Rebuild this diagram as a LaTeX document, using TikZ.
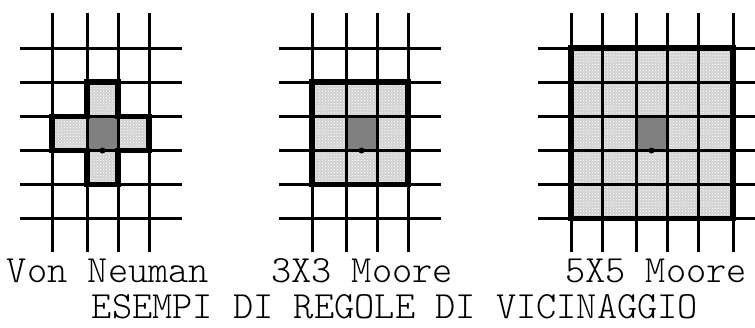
\documentclass[tikz,border=0pt]{standalone}
\usepackage{fontspec}
\usepackage{tikz}
\usetikzlibrary{patterns}
\newfontfamily\capfont{Latin Modern Mono Light}
\definecolor{cellgray}{RGB}{210,210,210}
\definecolor{centergray}{RGB}{128,128,128}
\tikzset{
  gridline/.style={line width=3pt},
  hoodline/.style={line width=5.5pt, line join=miter},
  cell/.style={fill=cellgray, postaction={pattern=crosshatch dots, pattern color=white}},
  centercell/.style={fill=centergray},
  caption/.style={font=\capfont\fontsize{38.5}{46}\selectfont, anchor=base, inner sep=0pt}
}
\def\rows{48,82,116.5,150.5,184.5,218.5}

\begin{document}
\begin{tikzpicture}[x=1pt, y=-1pt]
  \clip (0,0) rectangle (755,327);
  % Von Neuman
  \fill[cell] (87,82) -- (118,82) -- (118,116.5) -- (149,116.5) -- (149,150.5) -- (118,150.5)
    -- (118,184.5) -- (87,184.5) -- (87,150.5) -- (52,150.5) -- (52,116.5) -- (87,116.5) -- cycle;
  \fill[centercell] (87,116.5) rectangle (118,150.5);
  \foreach \x in {52,87,118,149}
    \draw[gridline] (\x,13) -- (\x,252);
  \foreach \y in \rows
    \draw[gridline] (20,\y) -- (182,\y);
  \draw[hoodline] (87,82) -- (118,82) -- (118,116.5) -- (149,116.5) -- (149,150.5) -- (118,150.5)
    -- (118,184.5) -- (87,184.5) -- (87,150.5) -- (52,150.5) -- (52,116.5) -- (87,116.5) -- cycle;
  \fill (102.5,150.5) circle (3);
  % 3X3 Moore
  \fill[cell] (312,82) rectangle (408,184.5);
  \fill[centercell] (346,116.5) rectangle (377,150.5);
  \foreach \x in {312,346,377,408}
    \draw[gridline] (\x,13) -- (\x,252);
  \foreach \y in \rows
    \draw[gridline] (279,\y) -- (441,\y);
  \draw[hoodline] (312,82) rectangle (408,184.5);
  \fill (361.5,150.5) circle (3);
  % 5X5 Moore
  \fill[cell] (571,48) rectangle (733,218.5);
  \fill[centercell] (636,116.5) rectangle (667,150.5);
  \foreach \x in {571,602,636,667,698,733}
    \draw[gridline] (\x,13) -- (\x,252);
  \foreach \y in \rows
    \draw[gridline] (538,\y) -- (766,\y);
  \draw[hoodline] (571,48) rectangle (733,218.5);
  \fill (651.5,150.5) circle (3);
  % Labels
  \node[caption] (vn) at (108,282) {Von Neuman};
  \node[caption] (m3) at (362,282) {3X3 Moore};
  \node[caption] (m5) at (656,282) {5X5 Moore};
  \node[caption] (title) at (395,318) {ESEMPI DI REGOLE DI VICINAGGIO};
\end{tikzpicture}
\end{document}
